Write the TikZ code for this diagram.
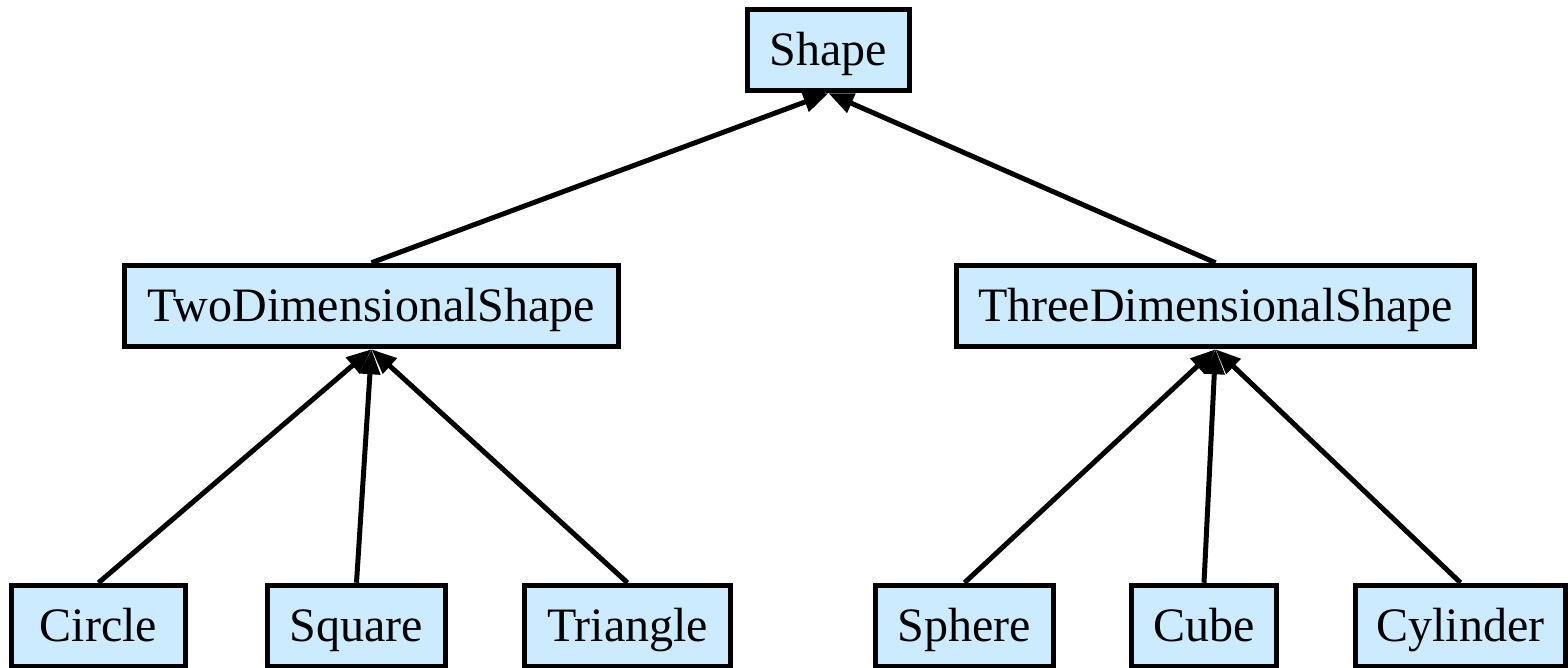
\documentclass[tikz,border=0pt]{standalone}
\usepackage{fontspec}
\setmainfont{Liberation Serif}
\usetikzlibrary{arrows.meta}
\definecolor{boxfill}{RGB}{204,235,255}
\tikzset{
  cls/.style={draw=black, fill=boxfill, line width=5.5pt, rectangle, inner sep=0pt,
    minimum height=81pt, text height=34pt, text depth=4pt,
    font=\fontsize{48pt}{56pt}\selectfont},
  inh/.style={line width=5pt, -{Triangle[length=25pt,width=20pt]}},
}
\begin{document}
\begin{tikzpicture}[x=1pt,y=-1pt]
\useasboundingbox (0,0) rectangle (1568,667);
\node[cls, minimum width=162pt] (shape) at (828.5,50) {Shape};
\node[cls, minimum width=494pt] (two) at (371.5,306) {TwoDimensionalShape};
\node[cls, minimum width=518pt] (three) at (1215.5,306) {ThreeDimensionalShape};
\node[cls, minimum width=174pt] (circle) at (98.5,626) {Circle};
\node[cls, minimum width=178pt] (square) at (356.5,626) {Square};
\node[cls, minimum width=206pt] (triangle) at (627.5,626) {Triangle};
\node[cls, minimum width=178pt] (sphere) at (964.5,626) {Sphere};
\node[cls, minimum width=145pt] (cube) at (1204,626) {Cube};
\node[cls, minimum width=210pt] (cylinder) at (1460.5,626) {Cylinder};
\draw[inh] (two.north) -- (shape.south);
\draw[inh] (three.north) -- (shape.south);
\draw[inh] (circle.north) -- (two.south);
\draw[inh] (square.north) -- (two.south);
\draw[inh] (triangle.north) -- (two.south);
\draw[inh] (sphere.north) -- (three.south);
\draw[inh] (cube.north) -- (three.south);
\draw[inh] (cylinder.north) -- (three.south);
\end{tikzpicture}
\end{document}
